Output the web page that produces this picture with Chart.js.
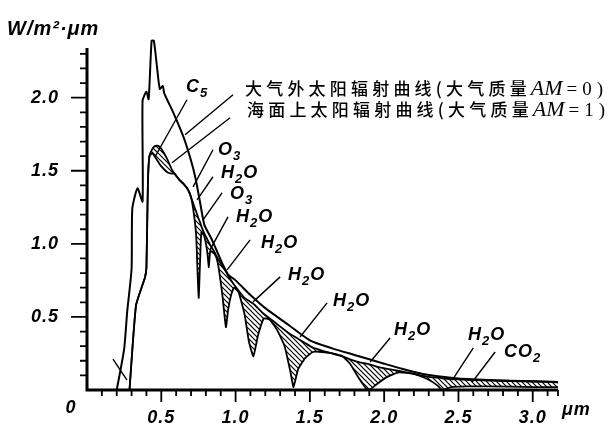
<!DOCTYPE html>
<html>
<head>
<meta charset="utf-8">
<script src="https://cdn.jsdelivr.net/npm/chart.js@4.4.1/dist/chart.umd.min.js"></script>
<style>
  html, body { margin: 0; background: #fff; }
  #wrap { width: 616px; height: 425px; position: relative; }
</style>
</head>
<body>
<div id="wrap"><canvas id="chart"></canvas></div>
<script>
// extraterrestrial curve (AM=0)
const am0X = [0.20,0.25,0.27,0.30,0.305,0.34,0.374,0.374,0.40,0.415,0.435,0.45,0.47,0.49,0.51,0.52,0.58,0.65,0.70,0.73,0.76,0.79,0.84,0.90,0.95,1.00,1.10,1.20,1.35,1.50,1.65,1.80,2.00,2.12,2.26,2.48,2.70,3.00,3.17];
const am0Y = [0,0.28,0.53,0.83,1.24,1.38,1.29,1.98,2.04,1.99,2.39,2.39,2.22,2.06,2.08,2.03,1.90,1.73,1.57,1.45,1.29,1.13,1.03,0.89,0.79,0.75,0.65,0.56,0.45,0.34,0.285,0.24,0.18,0.145,0.11,0.08,0.068,0.06,0.055];

// sea level curve (AM=1): smooth envelope and the absorbed curve, same wavelengths
const bandX = [0.286,0.33,0.39,0.40,0.41,0.42,0.44,0.46,0.48,0.50,0.54,0.57,0.59,0.62,0.65,0.68,0.70,0.72,0.735,0.745,0.752,0.76,0.77,0.79,0.81,0.82,0.83,0.86,0.88,0.91,0.935,0.95,0.97,0.99,1.02,1.06,1.09,1.12,1.15,1.19,1.23,1.28,1.33,1.37,1.39,1.42,1.47,1.52,1.58,1.65,1.72,1.77,1.83,1.88,1.90,1.95,2.02,2.10,2.20,2.30,2.36,2.39,2.45,2.55,2.70,3.00,3.17];
const envelopeY = [0,0.58,0.77,0.84,1.42,1.60,1.65,1.67,1.67,1.65,1.58,1.51,1.48,1.44,1.41,1.37,1.32,1.26,1.22,1.19,1.17,1.15,1.12,1.07,1.03,1.01,0.99,0.94,0.90,0.85,0.81,0.78,0.75,0.72,0.68,0.63,0.61,0.59,0.56,0.52,0.49,0.45,0.41,0.38,0.37,0.35,0.32,0.29,0.27,0.25,0.23,0.21,0.19,0.18,0.175,0.16,0.145,0.13,0.11,0.09,0.085,0.08,0.075,0.07,0.065,0.058,0.053];
const am1Y = [0,0.58,0.77,0.84,1.42,1.60,1.62,1.59,1.56,1.53,1.49,1.48,1.48,1.44,1.41,1.37,1.32,1.20,1.05,0.78,0.63,0.85,1.08,1.05,0.94,0.84,0.95,0.93,0.87,0.66,0.43,0.55,0.65,0.70,0.67,0.52,0.33,0.23,0.37,0.49,0.48,0.41,0.30,0.12,0.02,0.14,0.22,0.26,0.26,0.25,0.23,0.18,0.08,0.01,0,0.04,0.09,0.12,0.11,0.07,0.03,0,0.02,0.025,0.025,0.02,0.02];

// axes
const xMax = 3.17, yMax = 2.34, minorStep = 0.1;
const xTickLabels = ['0.5','1.0','1.5','2.0','2.5','3.0'];
const yTickLabels = ['0.5','1.0','1.5','2.0'];

// absorption labels: text, text position (px), leader line (data coords)
const notes = [
  { t: 'C_5',  x: 186, y: 92,  from: [0.673,1.986], to: [0.458,1.596] },
  { t: 'O_3',  x: 218, y: 155, from: [0.848,1.644], to: [0.714,1.39] },
  { t: 'H_2O', x: 221, y: 178, from: [0.848,1.459], to: [0.741,1.301] },
  { t: 'O_3',  x: 230, y: 199, from: [0.909,1.349], to: [0.781,1.164] },
  { t: 'H_2O', x: 236, y: 222, from: [0.949,1.185], to: [0.828,0.959] },
  { t: 'H_2O', x: 261, y: 248, from: [1.098,1.027], to: [0.943,0.822] },
  { t: 'H_2O', x: 288, y: 280, from: [1.30,0.774],  to: [1.118,0.603] },
  { t: 'H_2O', x: 333, y: 306, from: [1.616,0.596], to: [1.434,0.363] },
  { t: 'H_2O', x: 394, y: 335, from: [2.04,0.356],  to: [1.906,0.192] },
  { t: 'H_2O', x: 468, y: 340, from: [2.60,0.288],  to: [2.458,0.068] },
  { t: 'CO_2', x: 504, y: 357, from: [2.747,0.26],  to: [2.593,0.055] }
];
const curveLeaders = [
  { from: [0.983,2.02], to: [0.66,1.747] },
  { from: [0.963,1.863], to: [0.572,1.555] },
  { from: [0.175,0.212], to: [0.269,0.068] }
];
const legendLines = [
  { cn: '大气外太阳辐射曲线(大气质量', am: '=0)', x: 245, y: 95 },
  { cn: '海面上太阳辐射曲线(大气质量', am: '=1)', x: 247, y: 116 }
];

function hatch(){
  const c = document.createElement('canvas');
  c.width = 5; c.height = 5;
  const g = c.getContext('2d');
  g.strokeStyle = '#000';
  g.lineWidth = 1.2;
  g.beginPath();
  g.moveTo(-1,-1); g.lineTo(6,6);
  g.moveTo(-3,2); g.lineTo(3,8);
  g.moveTo(2,-3); g.lineTo(8,3);
  g.stroke();
  return g.createPattern(c, 'repeat');
}

const LAB = "'Liberation Sans', 'DejaVu Sans', sans-serif";

function chem(ctx, s, x, y){
  let cx = x;
  for (let i = 0; i < s.length; i++){
    let ch = s[i], sub = false;
    if (ch === '_'){ sub = true; ch = s[++i]; }
    ctx.font = sub ? `italic bold 13px ${LAB}` : `italic bold 18px ${LAB}`;
    ctx.fillText(ch, cx, sub ? y + 5 : y);
    cx += ctx.measureText(ch).width + 1;
  }
}

const decor = {
  id: 'decor',
  afterDraw(chart){
    const ctx = chart.ctx, xs = chart.scales.x, ys = chart.scales.y;
    const px = v => xs.getPixelForValue(v), py = v => ys.getPixelForValue(v);
    const x0 = px(0), y0 = py(0);
    ctx.save();
    ctx.strokeStyle = '#000';
    ctx.fillStyle = '#000';
    ctx.lineCap = 'butt';

    // axis lines
    ctx.lineWidth = 3;
    ctx.beginPath();
    ctx.moveTo(x0, py(yMax)); ctx.lineTo(x0, y0 + 1.5);
    ctx.moveTo(x0 - 1.5, y0); ctx.lineTo(px(xMax), y0);
    ctx.stroke();

    // ticks
    ctx.lineWidth = 1.8;
    ctx.beginPath();
    for (let i = 1; i * minorStep < yMax; i++){
      const y = py(i * minorStep), len = i % 5 === 0 ? 16 : 7;
      ctx.moveTo(x0 - len, y); ctx.lineTo(x0, y);
    }
    for (let i = 1; i * minorStep <= xMax + 0.001; i++){
      const x = px(i * minorStep), len = i % 5 === 0 ? 12 : 6;
      ctx.moveTo(x, y0); ctx.lineTo(x, y0 + len);
    }
    ctx.moveTo(px(xMax), y0); ctx.lineTo(px(xMax), y0 + 6);
    ctx.stroke();

    // tick labels
    ctx.font = `italic bold 18px ${LAB}`;
    ctx.letterSpacing = '1px';
    ctx.textBaseline = 'middle';
    ctx.textAlign = 'right';
    yTickLabels.forEach(l => ctx.fillText(l, 59, py(+l)));
    ctx.textAlign = 'center';
    xTickLabels.forEach(l => ctx.fillText(l, px(+l), 418));
    ctx.fillText('0', 71, 408);
    ctx.textAlign = 'left';
    ctx.fillText('\u03bcm', 562, 410);
    ctx.textBaseline = 'alphabetic';
    ctx.font = `italic bold 20px ${LAB}`;
    ctx.fillText('W/m\u00b2\u00b7\u03bcm', 7, 35);
    ctx.letterSpacing = '0px';

    // leaders
    ctx.lineWidth = 1.4;
    ctx.beginPath();
    notes.concat(curveLeaders).forEach(n => {
      ctx.moveTo(px(n.from[0]), py(n.from[1]));
      ctx.lineTo(px(n.to[0]), py(n.to[1]));
    });
    ctx.stroke();

    notes.forEach(n => chem(ctx, n.t, n.x, n.y));

    // curve names
    legendLines.forEach(l => {
      let x = l.x;
      ctx.font = "500 17px 'Noto Sans CJK SC'";
      ctx.letterSpacing = '4.2px';
      ctx.fillText(l.cn, x, l.y);
      x += ctx.measureText(l.cn).width;
      ctx.letterSpacing = '0px';
      ctx.font = "italic 22px 'Liberation Serif'";
      ctx.fillText('AM', x, l.y);
      x += ctx.measureText('AM').width + 4;
      ctx.font = "19px 'Liberation Serif'";
      ctx.letterSpacing = '5px';
      ctx.fillText(l.am, x, l.y);
      ctx.letterSpacing = '0px';
    });
    ctx.restore();
  }
};

const pts = (xs, ys) => xs.map((x, i) => ({ x, y: ys[i] }));

new Chart(document.getElementById('chart'), {
  type: 'line',
  data: {
    datasets: [
      { label: 'AM0', data: pts(am0X, am0Y), borderColor: '#000', borderWidth: 2, tension: 0.2, fill: false, clip: false },
      { label: 'envelope', data: pts(bandX, envelopeY), borderColor: '#000', borderWidth: 1.8, tension: 0.15, fill: false, clip: false },
      { label: 'AM1', data: pts(bandX, am1Y), borderColor: '#000', borderWidth: 1.8, tension: 0.15, fill: '-1', backgroundColor: hatch(), clip: false }
    ]
  },
  options: {
    responsive: true,
    maintainAspectRatio: false,
    animation: false,
    events: [],
    layout: { padding: { left: 87, top: 48, right: 58, bottom: 35 } },
    elements: { point: { radius: 0 } },
    plugins: { legend: { display: false }, tooltip: { enabled: false } },
    scales: {
      x: { type: 'linear', min: 0, max: xMax, display: false },
      y: { type: 'linear', min: 0, max: yMax, display: false }
    }
  },
  plugins: [decor]
});
</script>
</body>
</html>
